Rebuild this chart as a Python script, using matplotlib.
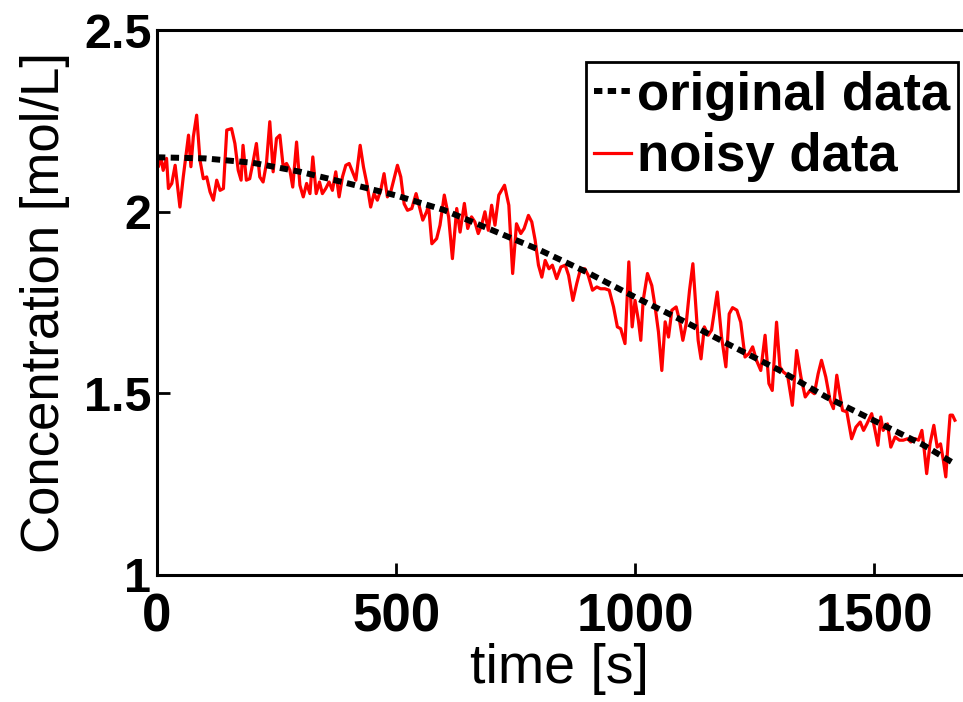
import matplotlib
matplotlib.use('Agg')
import matplotlib.pyplot as plt

# original (smooth) data
t_orig = [0, 100, 200, 300, 400, 500, 600, 700, 800, 900, 1000, 1100,
          1200, 1300, 1400, 1500, 1600, 1670]
c_orig = [2.150, 2.147, 2.135, 2.110, 2.078, 2.045, 2.005, 1.950, 1.895,
          1.833, 1.765, 1.700, 1.632, 1.565, 1.490, 1.425, 1.360, 1.305]

# noisy data
t_noisy = [0, 3, 8, 13, 20, 24, 31, 38, 48, 55, 66, 71, 76, 83, 90, 97, 104,
           111, 118, 125, 132, 139, 146, 156, 163, 170, 176, 180, 187, 194,
           201, 208, 215, 222, 229, 236, 243, 250, 257, 264, 271, 278, 284,
           292, 299, 306, 313, 320, 326, 333, 340, 346, 353, 360, 367, 374,
           381, 388, 395, 402, 409, 416, 425, 432, 439, 447, 454, 461, 468,
           475, 482, 489, 496, 503, 510, 517, 524, 533, 542, 549, 556, 564,
           568, 575, 585, 592, 601, 610, 618, 627, 634, 643, 650, 658, 665,
           672, 679, 686, 693, 700, 707, 715, 727, 736, 744, 752, 761, 768,
           777, 784, 791, 798, 805, 812, 820, 827, 836, 845, 854, 861, 870,
           878, 886, 895, 902, 911, 920, 928, 937, 946, 955, 963, 970, 979,
           987, 994, 1000, 1007, 1012, 1017, 1026, 1035, 1042, 1049, 1056,
           1063, 1070, 1077, 1086, 1093, 1100, 1107, 1114, 1121, 1132, 1138,
           1145, 1153, 1160, 1172, 1181, 1190, 1197, 1204, 1213, 1221, 1230,
           1238, 1246, 1254, 1263, 1272, 1280, 1287, 1296, 1303, 1310, 1319,
           1329, 1338, 1347, 1356, 1366, 1375, 1383, 1390, 1399, 1408, 1415,
           1422, 1427, 1434, 1443, 1453, 1462, 1471, 1478, 1485, 1495, 1502,
           1508, 1514, 1519, 1528, 1535, 1544, 1553, 1561, 1570, 1577, 1586,
           1593, 1600, 1605, 1610, 1617, 1625, 1632, 1639, 1645, 1650, 1655,
           1659, 1664, 1669]
c_noisy = [2.160, 2.124, 2.151, 2.114, 2.147, 2.064, 2.078, 2.128, 2.013,
           2.096, 2.211, 2.124, 2.206, 2.266, 2.142, 2.091, 2.096, 2.055,
           2.032, 2.087, 2.059, 2.064, 2.225, 2.229, 2.188, 2.114, 2.087,
           2.183, 2.087, 2.091, 2.137, 2.188, 2.096, 2.082, 2.133, 2.248,
           2.110, 2.202, 2.211, 2.124, 2.133, 2.115, 2.068, 2.192, 2.073,
           2.041, 2.078, 2.050, 2.151, 2.050, 2.082, 2.050, 2.064, 2.082,
           2.059, 2.110, 2.041, 2.096, 2.128, 2.133, 2.110, 2.087, 2.183,
           2.123, 2.078, 2.013, 2.050, 2.032, 2.059, 2.105, 2.041, 2.055,
           2.091, 2.128, 2.096, 2.022, 2.004, 2.009, 2.050, 2.013, 1.977,
           2.000, 2.018, 1.912, 1.926, 1.963, 2.046, 1.986, 1.871, 2.009,
           1.944, 2.023, 1.954, 1.986, 1.972, 1.940, 1.963, 2.000, 1.949,
           2.018, 1.963, 2.046, 2.073, 2.018, 1.830, 1.967, 1.940, 1.954,
           1.990, 1.972, 1.922, 1.853, 1.820, 1.866, 1.843, 1.853, 1.816,
           1.848, 1.853, 1.825, 1.756, 1.802, 1.843, 1.843, 1.825, 1.784,
           1.793, 1.788, 1.788, 1.784, 1.738, 1.683, 1.678, 1.637, 1.862,
           1.683, 1.756, 1.701, 1.646, 1.756, 1.830, 1.797, 1.738, 1.669,
           1.563, 1.697, 1.655, 1.729, 1.738, 1.701, 1.646, 1.692, 1.784,
           1.857, 1.646, 1.595, 1.683, 1.660, 1.674, 1.779, 1.655, 1.573,
           1.719, 1.736, 1.729, 1.696, 1.600, 1.609, 1.628, 1.591, 1.563,
           1.660, 1.527, 1.508, 1.696, 1.573, 1.559, 1.550, 1.467, 1.618,
           1.545, 1.490, 1.508, 1.499, 1.554, 1.591, 1.545, 1.480, 1.458,
           1.550, 1.508, 1.453, 1.449, 1.375, 1.407, 1.421, 1.398, 1.416,
           1.444, 1.398, 1.357, 1.435, 1.398, 1.416, 1.352, 1.380, 1.371,
           1.371, 1.375, 1.366, 1.375, 1.371, 1.398, 1.343, 1.279, 1.361,
           1.412, 1.352, 1.361, 1.315, 1.270, 1.370, 1.440, 1.440, 1.426]

x_ticks = [0, 500, 1000, 1500]
y_ticks = [1, 1.5, 2, 2.5]

plt.rcParams['font.family'] = ['Liberation Sans', 'DejaVu Sans']

fig = plt.figure(figsize=(9.63, 7.02), dpi=100)
ax = fig.add_axes([0.163, 0.181, 0.837, 0.776])

ax.plot(t_orig, c_orig, color='black', lw=4.3, dashes=(1.4, 0.9),
        label='original data', zorder=3)
ax.plot(t_noisy, c_noisy, color='red', lw=2.3, label='noisy data', zorder=2)

ax.set_xlim(0, 1686)
ax.set_ylim(1, 2.5)
ax.set_xticks(x_ticks)
ax.set_xticklabels(['0', '500', '1000', '1500'])
ax.set_yticks(y_ticks)
ax.set_yticklabels(['1', '1.5', '2', '2.5'])

for lab in ax.get_xticklabels():
    lab.set_fontsize(38)
    lab.set_fontweight('bold')
for lab in ax.get_yticklabels():
    lab.set_fontsize(35)
    lab.set_fontweight('bold')

ax.tick_params(direction='in', length=9, width=2)
ax.tick_params(axis='x', pad=13)
ax.tick_params(axis='y', pad=4)
ax.spines['right'].set_visible(False)
for s in ['left', 'top', 'bottom']:
    ax.spines[s].set_linewidth(2.2)

ax.set_xlabel('time [s]', fontsize=40, labelpad=0)
ax.set_ylabel('Concentration [mol/L]', fontsize=38, labelpad=10)

leg = ax.legend(loc='upper right', bbox_to_anchor=(0.994, 0.941),
                prop={'size': 38, 'weight': 'bold'}, handlelength=0.7,
                handletextpad=0.1, borderpad=0.16, labelspacing=0.22,
                fancybox=False, framealpha=1, borderaxespad=0)
leg.get_frame().set_edgecolor('black')
leg.get_frame().set_linewidth(2)

fig.savefig('out.png', dpi=100)
